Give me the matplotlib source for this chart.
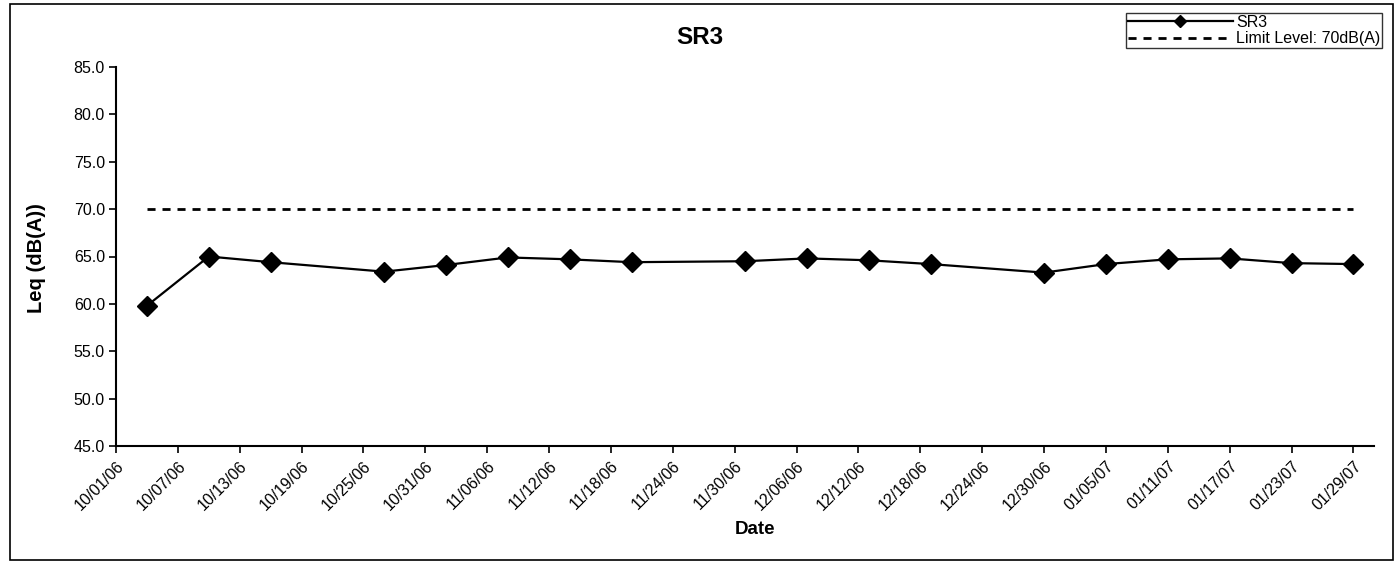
import datetime as dt
import matplotlib
matplotlib.use("Agg")
import matplotlib.pyplot as plt
import matplotlib.dates as mdates
from matplotlib.patches import Rectangle

plt.rcParams['font.family'] = ['Liberation Sans', 'DejaVu Sans']

# measurement dates and Leq readings for SR3
dates = ["10/04/06", "10/10/06", "10/16/06", "10/27/06", "11/02/06", "11/08/06",
         "11/14/06", "11/20/06", "12/01/06", "12/07/06", "12/13/06", "12/19/06",
         "12/30/06", "01/05/07", "01/11/07", "01/17/07", "01/23/07", "01/29/07"]
leq = [59.8, 65.0, 64.4, 63.4, 64.1, 64.9, 64.7, 64.4, 64.5,
       64.8, 64.6, 64.2, 63.3, 64.2, 64.7, 64.8, 64.3, 64.2]
limit = [70.0] * len(dates)

x = [dt.datetime.strptime(d, "%m/%d/%y") for d in dates]
x_start = dt.datetime(2006, 10, 1)
x_end = dt.datetime(2007, 1, 31)

W, H = 1399, 563
fig = plt.figure(figsize=(W / 100, H / 100), dpi=100)
ax = fig.add_axes([116 / W, 1 - 446 / H, (1374 - 116) / W, (446 - 67) / H])

ax.plot(x, leq, color="black", lw=1.6, marker="D", ms=10, label="SR3")
ax.plot(x, limit, color="black", lw=2.0, linestyle=(0, (2.9, 2.5)),
        label="Limit Level: 70dB(A)")

ax.set_xlim(x_start, x_end)
ax.set_ylim(45, 85)
ax.set_yticks([45, 50, 55, 60, 65, 70, 75, 80, 85])
ax.yaxis.set_major_formatter(matplotlib.ticker.FormatStrFormatter("%.1f"))
ticks = [x_start + dt.timedelta(days=6 * i) for i in range(21)]
ax.set_xticks(ticks)
ax.xaxis.set_major_formatter(mdates.DateFormatter("%m/%d/%y"))

for lbl in ax.get_xticklabels():
    lbl.set_rotation(45)
    lbl.set_ha("right")
    lbl.set_va("top")
    lbl.set_rotation_mode("anchor")
    lbl.set_fontsize(11.5)
ax.tick_params(axis="y", labelsize=11.5, length=5, width=1.2, direction="out", pad=3)
ax.tick_params(axis="x", length=5, width=1.2, direction="out", pad=4)

ax.spines["top"].set_visible(False)
ax.spines["right"].set_visible(False)
ax.spines["left"].set_linewidth(1.5)
ax.spines["bottom"].set_linewidth(1.5)

fig.text(0.5, 1 - 37 / H, "SR3", ha="center", va="center", fontsize=17.5, fontweight="bold")
fig.text(755 / W, 1 - 530 / H, "Date", ha="center", va="center", fontsize=13.5, fontweight="bold")
fig.text(36 / W, 1 - 258 / H, "Leq (dB(A))", ha="center", va="center", rotation=90,
         fontsize=14.5, fontweight="bold")

leg = fig.legend(loc="upper right", bbox_to_anchor=(1382 / W, 1 - 13 / H), fontsize=11.5,
                 frameon=True, fancybox=False, edgecolor="black", handlelength=6.6,
                 borderpad=0.1, labelspacing=0.1, handletextpad=0.2, borderaxespad=0,
                 markerscale=0.6)
leg.get_frame().set_linewidth(1.0)

fig.patches.append(Rectangle((10 / W, 3 / H), (1393 - 10) / W, (560 - 4) / H,
                             transform=fig.transFigure, fill=False, edgecolor="black", lw=1.2))

fig.savefig("out.png", dpi=100)
